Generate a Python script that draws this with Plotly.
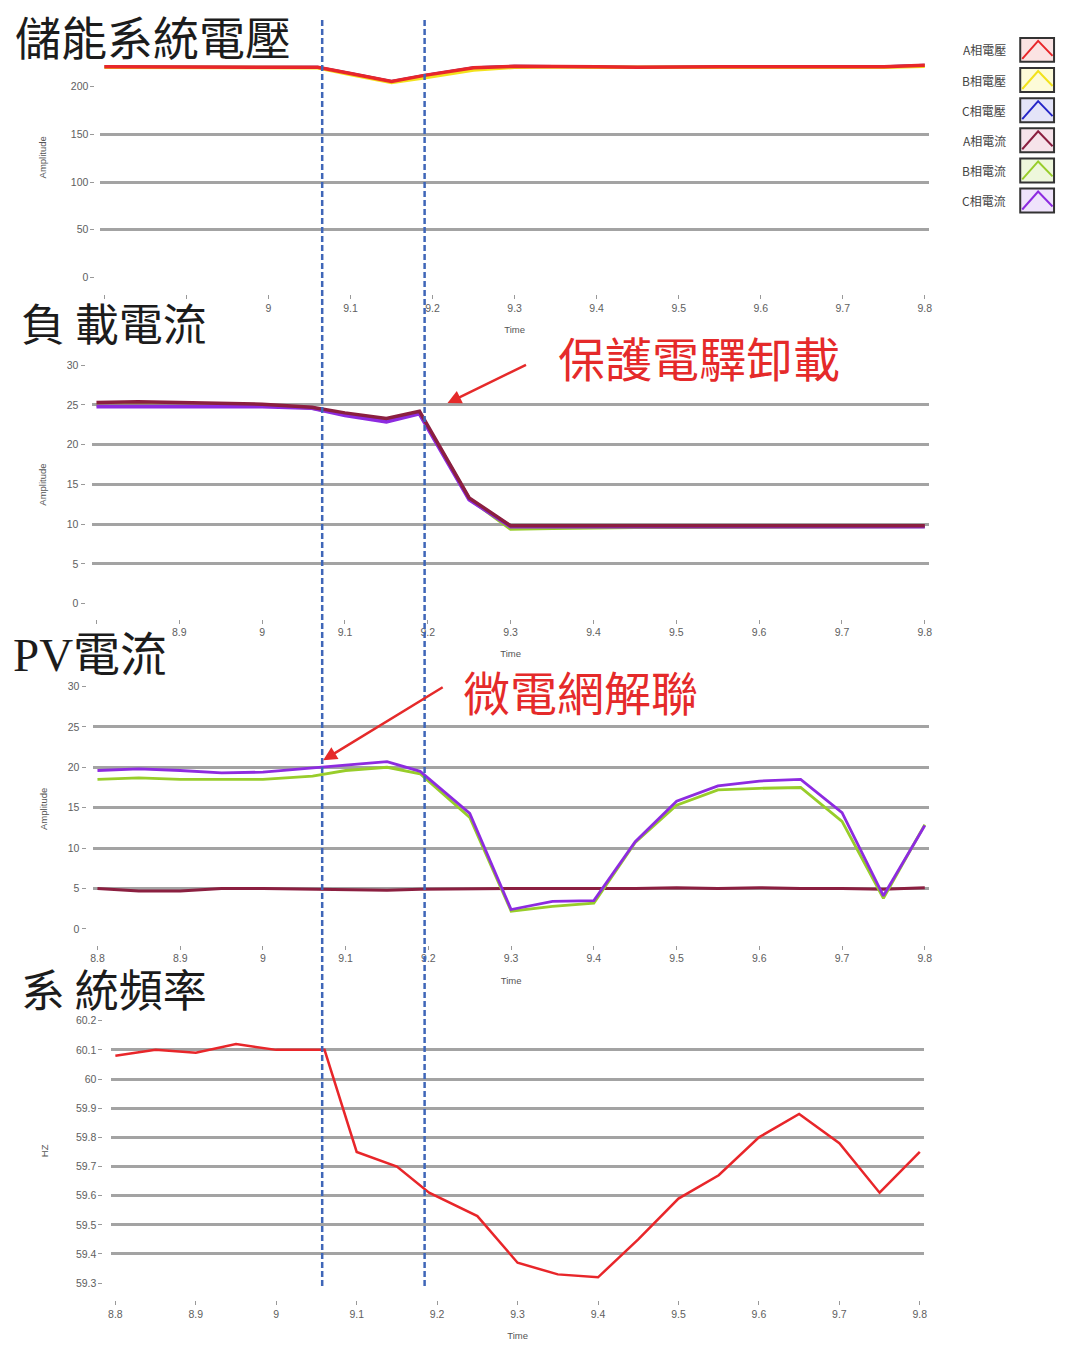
import plotly.graph_objects as go

W, H = 1065, 1346

# ---- data -------------------------------------------------------------
time_s = [8.8, 8.85, 8.9, 8.95, 9.0, 9.06, 9.1, 9.15, 9.19, 9.25, 9.3,
          9.35, 9.4, 9.45, 9.5, 9.55, 9.6, 9.65, 9.7, 9.75, 9.8]

# storage system voltage (V)
volt_a = [221, 221, 221, 221, 221, 220.5, 214, 205.5, 212, 220, 221.5,
          221.5, 221, 220.5, 221, 221, 221, 221, 221, 221, 222.5]
volt_b = [220.5, 220.5, 220.5, 220.5, 220.5, 220, 213, 204.5, 209.5, 217.5, 220.5,
          221, 220.5, 220.5, 220.5, 220.5, 220.5, 220.5, 220.5, 220.5, 221.5]
volt_c = [221, 221, 221, 221, 221, 220.5, 214, 205.5, 212, 220, 221.5,
          221.5, 221, 220.5, 221, 221, 221, 221, 221, 221, 222.5]

# load current (A)
load_a = [25.3, 25.4, 25.3, 25.2, 25.1, 24.7, 24.0, 23.3, 24.2, 13.3, 9.8,
          9.8, 9.8, 9.8, 9.8, 9.8, 9.8, 9.9, 9.8, 9.8, 9.8]
load_b = [25.0, 25.0, 25.0, 25.0, 25.0, 24.6, 23.8, 23.1, 24.0, 13.2, 9.4,
          9.5, 9.6, 9.6, 9.6, 9.6, 9.7, 9.7, 9.7, 9.6, 9.7]
load_c = [24.8, 24.8, 24.8, 24.8, 24.8, 24.6, 23.7, 22.9, 23.9, 13.1, 9.7,
          9.7, 9.7, 9.7, 9.7, 9.7, 9.7, 9.8, 9.7, 9.7, 9.7]

# PV current (A)
pv_a = [5.0, 4.7, 4.7, 5.0, 5.0, 4.9, 4.8, 4.8, 4.9, 5.0, 5.0,
        5.0, 5.0, 5.0, 5.1, 5.0, 5.1, 5.0, 5.0, 4.9, 5.1]
pv_b = [18.5, 18.7, 18.5, 18.5, 18.5, 18.9, 19.6, 20.0, 19.2, 13.8, 2.2,
        2.8, 3.2, 10.7, 15.3, 17.2, 17.4, 17.5, 13.3, 3.8, 12.9]
pv_c = [19.6, 19.8, 19.6, 19.3, 19.4, 19.9, 20.3, 20.7, 19.5, 14.3, 2.4,
        3.4, 3.5, 10.8, 15.8, 17.7, 18.3, 18.5, 14.4, 4.1, 12.8]

# system frequency (Hz)
freq_hz = [60.08, 60.10, 60.09, 60.12, 60.10, 60.10, 59.75, 59.70, 59.61, 59.53, 59.37,
           59.33, 59.32, 59.45, 59.59, 59.67, 59.80, 59.88, 59.78, 59.61, 59.75]

x_tick_vals = [8.8, 8.9, 9.0, 9.1, 9.2, 9.3, 9.4, 9.5, 9.6, 9.7, 9.8]
x_tick_text = ["8.8", "8.9", "9", "9.1", "9.2", "9.3", "9.4", "9.5", "9.6", "9.7", "9.8"]
# the first panels leave the leading labels empty where the next heading sits
x_tick_text_p1 = ["", ""] + x_tick_text[2:]
x_tick_text_p2 = [""] + x_tick_text[1:]

volt_ticks = [0, 50, 100, 150, 200]
amp_ticks = [0, 5, 10, 15, 20, 25, 30]
freq_ticks = [59.3, 59.4, 59.5, 59.6, 59.7, 59.8, 59.9, 60.0, 60.1, 60.2]
freq_tick_text = ["59.3", "59.4", "59.5", "59.6", "59.7", "59.8", "59.9", "60", "60.1", "60.2"]

series_names = ["A相電壓", "B相電壓", "C相電壓", "A相電流", "B相電流", "C相電流"]
series_colors = ["#e8262a", "#f2e21c", "#2626c8", "#8b1f40", "#98cd2a", "#8d2be0"]
series_tints = ["#fbe3e3", "#fdfbd8", "#e4e4f8", "#f6e3ea", "#eef7dc", "#efe3fb"]

# ---- geometry helpers (pixel -> paper) --------------------------------
def fx(p):
    return p / W

def fy(p):
    return 1 - p / H

def lin(v, a, b):
    (va, pa), (vb, pb) = a, b
    return pa + (v - va) * (pb - pa) / (vb - va)

X_RANGE = (8.795, 9.805)

panels = [
    dict(xpx=(102, 927), ya=(0, 278), yb=(200, 87), yr=(-3, 234), ticks=volt_ticks,
         ticktext=[str(t) for t in volt_ticks], xticktext=x_tick_text_p1,
         ylab=92, xlab=295, ytitle="Amplitude", ytitle_pos=(40, 158)),
    dict(xpx=(94, 927), ya=(0, 605), yb=(30, 366), yr=(-1, 31), ticks=amp_ticks,
         ticktext=[str(t) for t in amp_ticks], xticktext=x_tick_text_p2,
         ylab=82, xlab=620, ytitle="Amplitude", ytitle_pos=(40, 486)),
    dict(xpx=(95, 927), ya=(0, 931), yb=(30, 688), yr=(-1, 31), ticks=amp_ticks,
         ticktext=[str(t) for t in amp_ticks], xticktext=x_tick_text,
         ylab=83, xlab=947, ytitle="Amplitude", ytitle_pos=(40, 811)),
    dict(xpx=(113, 922), ya=(59.3, 1286), yb=(60.2, 1023), yr=(59.27, 60.23), ticks=freq_ticks,
         ticktext=freq_tick_text, xticktext=x_tick_text,
         ylab=100, xlab=1303, ytitle="HZ", ytitle_pos=(42, 1153)),
]

GRID = "#a3a3a3"
TICK_FONT = dict(family="Liberation Sans, Arial, sans-serif", size=10.5, color="#5e5e5e")

fig = go.Figure()
layout = dict(
    width=W, height=H, margin=dict(l=0, r=0, t=0, b=0),
    paper_bgcolor="white", plot_bgcolor="white", showlegend=False,
)

for k, p in enumerate(panels, start=1):
    xa, xb = (8.8, p["xpx"][0]), (9.8, p["xpx"][1])
    xdom = [fx(lin(X_RANGE[0], xa, xb)), fx(lin(X_RANGE[1], xa, xb))]
    ydom = [fy(lin(p["yr"][0], p["ya"], p["yb"])), fy(lin(p["yr"][1], p["ya"], p["yb"]))]
    sx = "" if k == 1 else str(k)
    layout["xaxis" + sx] = dict(
        domain=xdom, range=list(X_RANGE), anchor="free", position=fy(p["xlab"]),
        tickmode="array", tickvals=x_tick_vals, ticktext=p["xticktext"],
        ticks="outside", ticklen=4, tickwidth=1, tickcolor="#999999",
        showgrid=False, zeroline=False, showline=False, tickfont=TICK_FONT,
        title=dict(text="Time", font=dict(family="Liberation Sans, Arial", size=9.5, color="#555555"),
                   standoff=13),
    )
    # base y axis carries interior gridlines only
    layout["yaxis" + sx] = dict(
        domain=ydom, range=list(p["yr"]), anchor="x" + sx,
        tickmode="array", tickvals=p["ticks"][1:-1], showticklabels=False, ticks="",
        showgrid=True, gridcolor=GRID, gridwidth=2.5, zeroline=False, showline=False,
    )
    # overlaid y axis carries the tick labels
    lab = str(k + 4)
    layout["yaxis" + lab] = dict(
        overlaying="y" + sx, range=list(p["yr"]), anchor="free", position=fx(p["ylab"]),
        side="left", tickmode="array", tickvals=p["ticks"], ticktext=p["ticktext"],
        ticks="outside", ticklen=4, tickwidth=1, tickcolor="#999999",
        showgrid=False, zeroline=False, showline=False, tickfont=TICK_FONT,
    )
    fig.add_trace(go.Scatter(x=[], y=[], xaxis="x" + sx, yaxis="y" + lab,
                             hoverinfo="skip", showlegend=False))

def add_line(k, y, color, width):
    sx = "" if k == 1 else str(k)
    fig.add_trace(go.Scatter(x=time_s, y=y, mode="lines", xaxis="x" + sx, yaxis="y" + sx,
                             line=dict(color=color, width=width), showlegend=False))

# panel 1: voltages
add_line(1, volt_c, series_colors[2], 3)
add_line(1, volt_b, series_colors[1], 3.5)
add_line(1, volt_a, series_colors[0], 3.5)
# panel 2: load currents
add_line(2, load_b, series_colors[4], 3.5)
add_line(2, load_c, series_colors[5], 4)
add_line(2, load_a, series_colors[3], 3.5)
# panel 3: PV currents
add_line(3, pv_a, series_colors[3], 3)
add_line(3, pv_b, series_colors[4], 2.8)
add_line(3, pv_c, series_colors[5], 2.8)
# panel 4: frequency
add_line(4, freq_hz, series_colors[0], 2.5)

shapes = []
# event markers spanning all panels
for xp in (321, 424):
    shapes.append(dict(type="line", xref="paper", yref="paper",
                       x0=fx(xp), x1=fx(xp), y0=fy(20), y1=fy(1292),
                       line=dict(color="#3f66b8", width=2.5, dash="6px,3px")))

annotations = []
CJK = "Noto Sans CJK TC, Noto Sans CJK SC, sans-serif"
titles = [
    ("儲能系統電壓", 10, 35, 46),
    ("負 載電流", 16, 323, 44),
    ('<span style="font-family:Liberation Serif, serif">PV</span>電流', 8, 652, 47),
    ("系 統頻率", 16, 990, 44),
]
for text, xp, yp, size in titles:
    annotations.append(dict(text=text, x=fx(xp), y=fy(yp), xref="paper", yref="paper",
                            xanchor="left", yanchor="middle", showarrow=False,
                            font=dict(family=CJK, size=size, color="#1c1c1c")))

for p in panels:
    annotations.append(dict(text=p["ytitle"], x=fx(p["ytitle_pos"][0]), y=fy(p["ytitle_pos"][1]),
                            xref="paper", yref="paper", xanchor="center", yanchor="middle",
                            textangle=-90, showarrow=False,
                            font=dict(family="Liberation Sans, Arial", size=9.5, color="#555555")))

RED = "#e52a2a"
annotations += [
    dict(text="保護電驛卸載", x=fx(700), y=fy(357), xref="paper", yref="paper",
         xanchor="center", yanchor="middle",
         showarrow=False, font=dict(family=CJK, size=47, color=RED)),
    dict(text="微電網解聯", x=fx(581), y=fy(692), xref="paper", yref="paper",
         xanchor="center", yanchor="middle",
         showarrow=False, font=dict(family=CJK, size=47, color=RED)),
    dict(text="", x=fx(447), y=fy(404), xref="paper", yref="paper", ax=80, ay=-39,
         showarrow=True, arrowhead=2, arrowsize=1.1, arrowwidth=2.5, arrowcolor=RED, standoff=0),
    dict(text="", x=fx(322), y=fy(762), xref="paper", yref="paper", ax=121, ay=-74,
         showarrow=True, arrowhead=2, arrowsize=1.1, arrowwidth=2.5, arrowcolor=RED, standoff=0),
]

# legend: label on the left, boxed glyph on the right
for i, (name, color, tint) in enumerate(zip(series_names, series_colors, series_tints)):
    cy = 50 + 30.2 * i
    annotations.append(dict(text=name, x=fx(1011), y=fy(cy), xref="paper", yref="paper",
                            xanchor="right", yanchor="middle", showarrow=False,
                            font=dict(family=CJK, size=12, color="#444444")))
    shapes.append(dict(type="rect", xref="paper", yref="paper",
                       x0=fx(1023), x1=fx(1057), y0=fy(cy + 12), y1=fy(cy - 12),
                       fillcolor=tint, line=dict(color="#333333", width=2)))
    path = "M {:.5f},{:.5f} L {:.5f},{:.5f} L {:.5f},{:.5f}".format(
        fx(1025), fy(cy + 9), fx(1041), fy(cy - 9), fx(1055.5), fy(cy + 6))
    shapes.append(dict(type="path", xref="paper", yref="paper", path=path,
                       line=dict(color=color, width=2)))

layout["shapes"] = shapes
layout["annotations"] = annotations
fig.update_layout(**layout)

fig.write_html("out.html")
